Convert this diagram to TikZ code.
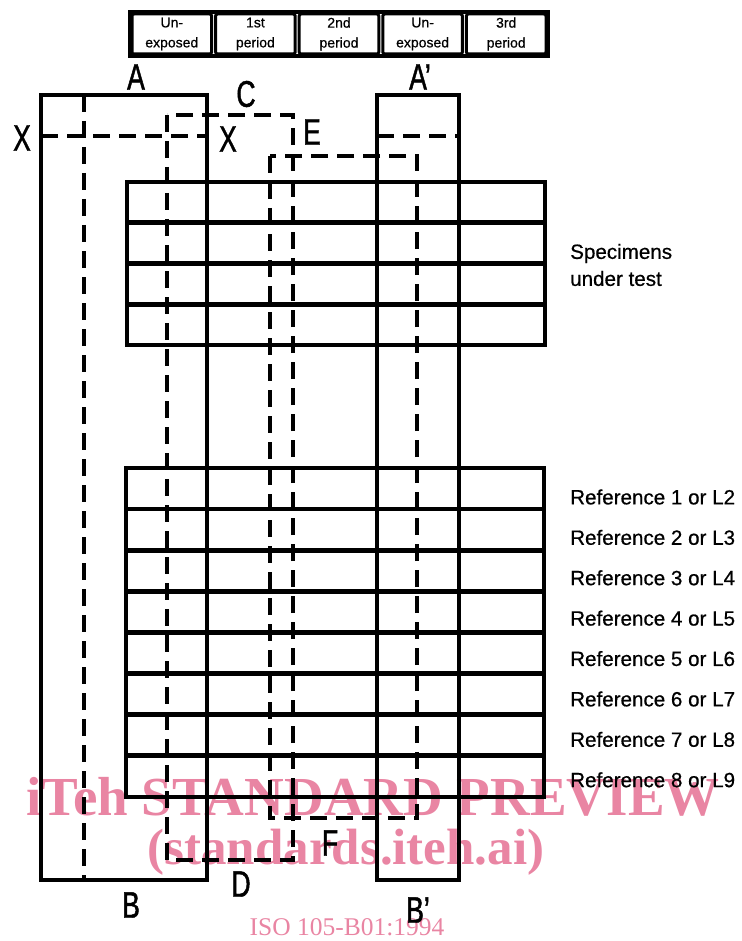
\documentclass[tikz,border=0pt]{standalone}
\usepackage{fontspec}
\setmainfont{Liberation Sans}
\newfontfamily\labelfont[FakeBold=0.6]{Liberation Sans}
\newfontfamily\narrowfont[FakeStretch=0.72,FakeBold=1.2]{Liberation Sans}
\newfontfamily\wmfont{Liberation Serif}
\usepackage{tikz}
\usetikzlibrary{positioning}
\definecolor{wmpink}{RGB}{233,133,163}

\begin{document}
\begin{tikzpicture}[x=1pt,y=-1pt,
    frame/.style={line width=4.6pt},
    cut/.style={line width=4pt,dash pattern=on 17pt off 9pt},
    letter/.style={inner sep=0pt,font=\narrowfont\fontsize{37}{37}\selectfont},
    rowlabel/.style={anchor=west,inner sep=0pt,font=\labelfont\fontsize{20.6}{27}\selectfont},
    colhead/.style={align=center,inner sep=0pt,font=\labelfont\fontsize{14}{20}\selectfont}]
  \useasboundingbox (0,0) rectangle (741,941);
  % column headings
  \foreach \t [count=\i from 0] in {{Un-\\exposed},{1st\\period},{2nd\\period},{Un-\\exposed},{3rd\\period}}{
    \draw[line width=3pt,rounded corners=2pt] (132+83.6*\i,14) rectangle +(79.6,40);
    \node[colhead] (head\i) at (171.8+83.6*\i,34) {\t};
  }
  \draw[frame] (130,12) rectangle (548,56);
  % specimen and reference strips
  \foreach \k in {0,...,3}
    \draw[frame] (127,182+40.75*\k) rectangle +(418,40.75);
  \foreach \k in {0,...,7}
    \draw[frame] (126,468+41.1*\k) rectangle +(418,41.1);
  % masks
  \draw[frame] (41,95) rectangle (207,880);
  \draw[frame] (377,95) rectangle (459,880);
  % covers
  \draw[cut] (41,136) -- (207,136);
  \draw[cut] (377,136) -- (459,136);
  \draw[cut] (84,95) -- (84,880);
  \draw[cut] (167,115) rectangle (293,860);
  \draw[cut] (270,156) rectangle (417,818);
  % letters
  \node[letter] (maskA) at (136,77) {A};
  \node[letter] (maskAp) at (420,77) {A’};
  \node[letter] (maskB) at (131,905) {B};
  \node[letter] (maskBp) at (418,910) {B’};
  \node[letter] (coverC) at (246,94) {C};
  \node[letter] (coverD) at (241,884) {D};
  \node[letter] (coverE) at (312,132) {E};
  \node[letter] (coverF) at (330,843) {F};
  \node[letter] (lineXl) at (22,138) {X};
  \node[letter] (lineXr) at (228,139) {X};
  % strip labels
  \node[rowlabel,align=left] (spec) at (570,265) {Specimens\\under test};
  \foreach \k [evaluate=\k as \l using int(\k+1)] in {1,...,8}
    \node[rowlabel] (ref\k) at (570,497+40.4*\k-40.4) {Reference \k\ or L\l};
  % watermark
  \begin{scope}[blend mode=multiply]
    \node[text=wmpink,font=\wmfont\bfseries\fontsize{55}{55}\selectfont,inner sep=0pt] (wm1) at (373,797) {iTeh STANDARD PREVIEW};
    \node[text=wmpink,font=\wmfont\bfseries\fontsize{51}{51}\selectfont,inner sep=0pt] (wm2) at (346,852) {(standards.iteh.ai)};
    \node[text=wmpink,font=\wmfont\fontsize{25.5}{25.5}\selectfont,inner sep=0pt] (wm3) at (347,927) {ISO 105-B01:1994};
  \end{scope}
\end{tikzpicture}
\end{document}
